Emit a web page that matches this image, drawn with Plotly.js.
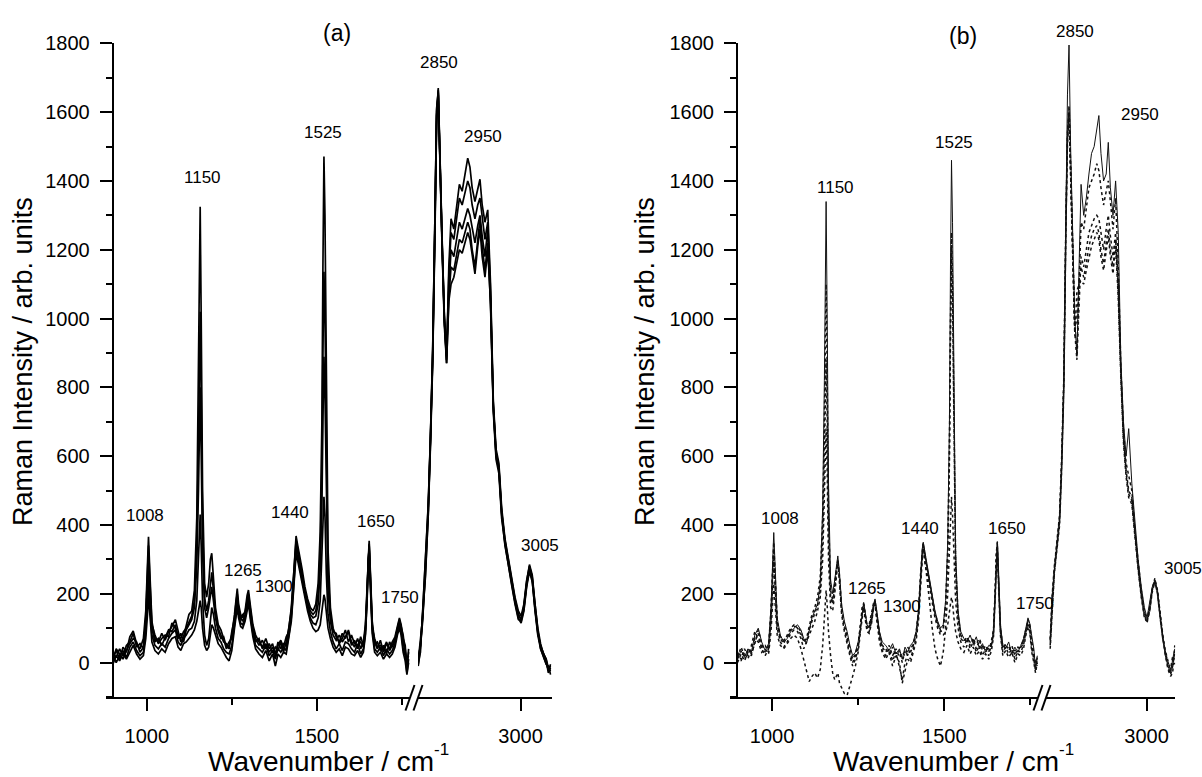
<!DOCTYPE html>
<html>
<head>
<meta charset="utf-8">
<script src="https://cdn.plot.ly/plotly-3.0.1.min.js"></script>
<style>
html,body{margin:0;padding:0;background:#ffffff;}
#chart{width:1202px;height:777px;}
</style>
</head>
<body>
<div id="chart"></div>
<script>
// ---------------- DATA ----------------
// Wavenumber grids (cm-1) for the two parts of the broken x axis
const leftWavenumber = [
  900, 910, 920, 930, 940, 950, 960, 970, 980, 990,
  997, 1002, 1005, 1009, 1015, 1024, 1034, 1044, 1054, 1064,
  1074, 1084, 1092, 1100, 1108, 1116, 1124, 1132, 1140, 1147,
  1152, 1155, 1157, 1160, 1164, 1170, 1176, 1182, 1187, 1191,
  1196, 1202, 1210, 1218, 1226, 1234, 1242, 1250, 1258, 1263,
  1266, 1270, 1276, 1282, 1289, 1295, 1299, 1304, 1312, 1320,
  1330, 1340, 1350, 1360, 1370, 1378, 1386, 1394, 1402, 1410,
  1418, 1425, 1431, 1436, 1439, 1444, 1450, 1457, 1465, 1473,
  1481, 1489, 1497, 1504, 1510, 1515, 1518, 1521, 1524, 1528,
  1533, 1540, 1548, 1557, 1566, 1575, 1584, 1593, 1602, 1611,
  1620, 1629, 1637, 1643, 1648, 1651, 1654, 1658, 1663, 1670,
  1678, 1687, 1696, 1705, 1714, 1722, 1730, 1737, 1743, 1748,
  1754, 1760, 1765, 1770
];
const rightWavenumber = [
  2816, 2820, 2824, 2829, 2834, 2838, 2842, 2846, 2849, 2852,
  2855, 2859, 2863, 2867, 2871, 2875, 2880, 2885, 2890, 2895,
  2900, 2905, 2909, 2913, 2918, 2923, 2927, 2931, 2936, 2941,
  2946, 2951, 2956, 2961, 2966, 2972, 2978, 2984, 2990, 2996,
  3001, 3006, 3011, 3016, 3021, 3026, 3031, 3036, 3041, 3046,
  3050, 3054
];

// Panel (a) spectra, fingerprint region
const aLeft1 = [
  15, 35, 10, 45, 30, 75, 92, 55, 40, 70,
  150, 300, 366, 260, 120, 70, 60, 85, 65, 90,
  105, 125, 95, 60, 75, 110, 140, 150, 210, 420,
  800, 1150, 1325, 1000, 500, 230, 190, 230, 300, 318,
  250, 160, 110, 95, 70, 40, 50, 80, 140, 200,
  215, 170, 140, 130, 150, 195, 211, 170, 110, 80,
  60, 45, 70, 40, 55, 20, 50, 65, 45, 75,
  90, 140, 250, 340, 368, 340, 310, 270, 220, 185,
  160, 150, 170, 230, 380, 700, 1150, 1471, 1300, 750,
  330, 160, 100, 75, 60, 85, 70, 95, 60, 45,
  70, 40, 60, 110, 220, 330, 354, 250, 120, 60,
  40, 65, 30, 55, 40, 60, 75, 105, 130, 110,
  70, 50, -20, 40
];
const aLeft2 = [
  30, 15, 40, 20, 50, 60, 85, 45, 55, 40,
  130, 260, 340, 240, 110, 80, 55, 70, 80, 75,
  115, 100, 80, 70, 90, 100, 120, 135, 180, 340,
  640, 890, 1020, 780, 400, 190, 150, 180, 240, 262,
  210, 140, 100, 80, 60, 55, 40, 90, 130, 180,
  200, 160, 125, 140, 145, 180, 200, 160, 100, 70,
  50, 65, 40, 55, 30, 45, 35, 60, 30, 60,
  100, 160, 240, 320, 355, 330, 300, 255, 210, 175,
  150, 140, 150, 200, 320, 560, 900, 1136, 1000, 580,
  260, 140, 90, 85, 55, 70, 95, 60, 80, 55,
  50, 60, 45, 100, 210, 320, 345, 240, 110, 55,
  60, 35, 50, 25, 60, 45, 65, 100, 125, 105,
  80, 30, 10, 20
];
const aLeft3 = [
  5, 40, 25, 10, 35, 55, 70, 60, 30, 45,
  120, 230, 300, 210, 100, 60, 70, 50, 75, 95,
  90, 110, 70, 85, 60, 95, 110, 125, 160, 280,
  500, 700, 800, 610, 320, 160, 130, 160, 200, 220,
  180, 130, 90, 70, 75, 45, 60, 70, 120, 170,
  190, 150, 130, 120, 140, 175, 195, 150, 90, 60,
  70, 40, 55, 30, 45, 25, 60, 40, 55, 50,
  110, 150, 230, 310, 340, 320, 290, 250, 200, 165,
  140, 130, 135, 170, 270, 450, 700, 889, 780, 450,
  210, 120, 80, 65, 80, 60, 75, 90, 50, 65,
  40, 75, 50, 95, 200, 310, 340, 235, 100, 70,
  45, 50, 40, 60, 35, 50, 70, 95, 120, 100,
  55, 40, -10, 30
];
const aLeft4 = [
  25, 0, 20, 35, 15, 45, 60, 35, 20, 30,
  90, 180, 250, 170, 80, 50, 40, 55, 45, 70,
  85, 95, 60, 50, 70, 80, 95, 100, 120, 180,
  290, 390, 430, 340, 180, 80, 50, 70, 120, 160,
  140, 100, 70, 60, 40, 30, 25, 50, 110, 150,
  170, 140, 115, 110, 130, 160, 185, 140, 85, 50,
  40, 30, 50, 20, 35, 10, 40, 30, 45, 35,
  80, 130, 210, 290, 325, 305, 275, 240, 190, 160,
  130, 115, 110, 130, 180, 290, 400, 482, 430, 260,
  140, 90, 60, 40, 55, 35, 60, 55, 40, 30,
  55, 25, 40, 85, 190, 300, 330, 220, 95, 40,
  30, 45, 20, 40, 25, 35, 55, 90, 110, 90,
  40, 20, -30, 10
];
const aLeft5 = [
  -5, 20, 5, 25, 10, 30, 50, 25, 10, 20,
  70, 140, 200, 140, 60, 35, 25, 40, 30, 55,
  70, 75, 45, 35, 55, 60, 70, 80, 95, 120,
  150, 175, 180, 160, 100, 50, 35, 45, 80, 110,
  100, 80, 55, 45, 30, 15, 5, 35, 100, 140,
  160, 130, 105, 100, 120, 150, 175, 130, 75, 40,
  25, 15, 35, 5, 25, -10, 25, 15, 30, 25,
  70, 120, 200, 280, 315, 295, 265, 230, 180, 150,
  120, 100, 90, 95, 110, 150, 180, 197, 185, 140,
  100, 70, 45, 30, 40, 20, 45, 40, 25, 20,
  35, 15, 30, 80, 180, 290, 320, 210, 85, 30,
  20, 30, 10, 25, 15, 25, 45, 80, 100, 80,
  30, 5, -35, 0
];

// Panel (a) spectra, C-H stretching region
const aRight1 = [
  10, 50, 140, 250, 430, 640, 880, 1260, 1580, 1670,
  1450, 1230, 1000, 880, 1150, 1290, 1260, 1330, 1390, 1370,
  1420, 1466, 1440, 1380, 1340, 1380, 1405, 1330, 1280, 1316,
  1100, 760, 620, 580, 450, 360, 300, 240, 190, 150,
  135, 170, 240, 280, 250, 160, 90, 45, 25, 10,
  -15, -25
];
const aRight2 = [
  5, 60, 130, 260, 430, 630, 870, 1240, 1560, 1660,
  1430, 1210, 990, 890, 1120, 1250, 1230, 1290, 1350, 1330,
  1370, 1400, 1380, 1330, 1290, 1330, 1350, 1290, 1230, 1280,
  1080, 750, 610, 570, 440, 350, 290, 230, 180, 140,
  125, 160, 230, 270, 240, 150, 80, 40, 20, 0,
  -20, -10
];
const aRight3 = [
  -5, 30, 150, 290, 460, 660, 910, 1290, 1600, 1665,
  1440, 1220, 1010, 900, 1080, 1200, 1180, 1230, 1280, 1260,
  1290, 1320, 1300, 1260, 1220, 1270, 1300, 1240, 1180, 1260,
  1060, 740, 600, 560, 430, 340, 285, 220, 175, 130,
  115, 150, 220, 265, 235, 155, 85, 50, 30, 5,
  -30, -15
];
const aRight4 = [
  10, 50, 120, 270, 440, 640, 890, 1270, 1590, 1650,
  1420, 1200, 980, 870, 1060, 1150, 1140, 1190, 1230, 1220,
  1250, 1280, 1260, 1200, 1150, 1230, 1290, 1210, 1140, 1220,
  1040, 730, 590, 550, 420, 345, 280, 225, 170, 125,
  120, 155, 225, 275, 245, 165, 95, 40, 15, -5,
  -10, -35
];
const aRight5 = [
  -10, 45, 145, 285, 455, 655, 905, 1290, 1610, 1655,
  1440, 1215, 1000, 870, 1050, 1100, 1120, 1160, 1200, 1190,
  1220, 1250, 1230, 1180, 1130, 1210, 1260, 1180, 1120, 1200,
  1050, 745, 605, 565, 435, 355, 295, 235, 185, 140,
  125, 165, 235, 285, 255, 170, 100, 55, 25, 10,
  -25, -5
];

// Panel (b) spectra, fingerprint region
const bLeft1 = [
  10, 35, 15, 40, 30, 80, 100, 60, 35, 55,
  160, 310, 378, 280, 130, 80, 60, 70, 90, 100,
  110, 95, 70, 55, 90, 130, 150, 170, 230, 450,
  820, 1180, 1340, 1020, 520, 240, 200, 240, 290, 310,
  260, 170, 120, 90, 50, 20, 30, 60, 110, 160,
  175, 150, 110, 100, 130, 170, 185, 150, 90, 60,
  50, 35, 55, 25, 40, 10, 45, 30, 50, 60,
  90, 150, 260, 330, 350, 320, 290, 240, 190, 150,
  120, 100, 110, 180, 350, 700, 1150, 1460, 1280, 740,
  320, 150, 90, 70, 60, 80, 55, 75, 40, 55,
  30, 50, 45, 100, 220, 330, 352, 240, 110, 50,
  40, 60, 25, 45, 30, 50, 70, 100, 130, 115,
  70, 40, -20, 20
];
const bLeft2 = [
  30, 10, 40, 20, 50, 90, 70, 45, 50, 30,
  140, 280, 350, 250, 115, 70, 55, 80, 100, 110,
  100, 80, 60, 70, 110, 140, 160, 190, 250, 420,
  700, 980, 1100, 850, 430, 210, 180, 230, 280, 300,
  240, 150, 100, 60, 30, 0, 20, 50, 120, 170,
  170, 140, 100, 110, 140, 175, 180, 140, 80, 45,
  30, 50, 20, 40, 15, 30, 20, 45, 30, 50,
  80, 140, 250, 320, 345, 315, 280, 230, 180, 140,
  110, 90, 95, 160, 300, 580, 950, 1200, 1050, 600,
  270, 130, 70, 60, 75, 50, 70, 40, 65, 35,
  50, 30, 60, 90, 210, 320, 345, 235, 100, 40,
  55, 35, 50, 20, 45, 40, 60, 95, 120, 105,
  50, 20, 0, -10
];
const bLeft3 = [
  0, 25, 5, 30, 20, 60, 85, 40, 20, 40,
  120, 240, 300, 220, 100, 60, 45, 60, 85, 95,
  90, 70, 40, 60, 80, 100, 120, 150, 190, 300,
  480, 630, 680, 560, 300, 160, 150, 200, 260, 290,
  230, 140, 90, 50, 20, -10, 10, 40, 110, 160,
  165, 135, 95, 90, 120, 165, 175, 130, 70, 35,
  20, 40, 5, 30, -20, -50, 0, 25, 10, 40,
  70, 130, 240, 310, 340, 300, 250, 180, 100, 40,
  10, -10, 30, 100, 200, 330, 420, 482, 430, 300,
  180, 100, 60, 45, 70, 40, 60, 30, 50, 20,
  40, 20, 50, 80, 200, 310, 340, 225, 90, 30,
  45, 25, 40, 10, 35, 30, 50, 90, 115, 100,
  40, 10, -25, 10
];
const bLeft4 = [
  20, 5, 30, 10, 40, 70, 60, 30, 40, 25,
  90, 180, 230, 170, 80, 50, 40, 55, 70, 80,
  70, 40, 10, -20, -55, -40, -30, -45, -20, 50,
  150, 200, 210, 170, 90, 20, -30, -50, -40, -30,
  -60, -75, -90, -95, -70, -40, -10, 30, 100, 150,
  160, 130, 90, 85, 115, 160, 170, 125, 60, 30,
  10, 30, -10, 20, 0, -60, -20, 10, 0, 30,
  60, 120, 230, 300, 330, 290, 260, 220, 170, 130,
  100, 80, 80, 90, 110, 140, 170, 190, 175, 130,
  90, 60, 40, 30, 50, 25, 45, 20, 35, 10,
  25, 10, 35, 75, 190, 300, 330, 215, 80, 20,
  35, 15, 30, 0, 25, 20, 40, 80, 105, 90,
  30, 0, -30, 0
];
const bLeft5 = [
  15, 45, 20, 35, 25, 55, 95, 55, 30, 50,
  150, 270, 330, 240, 120, 75, 65, 75, 95, 105,
  105, 90, 65, 60, 95, 120, 140, 165, 210, 360,
  600, 800, 880, 700, 360, 190, 170, 220, 275, 295,
  250, 160, 110, 75, 40, 10, 25, 55, 115, 165,
  170, 145, 105, 105, 135, 170, 180, 145, 85, 50,
  40, 25, 45, 15, 35, 0, 35, 20, 40, 55,
  85, 145, 255, 325, 348, 310, 275, 235, 185, 145,
  115, 95, 100, 170, 320, 620, 980, 1250, 1100, 650,
  290, 140, 80, 65, 70, 60, 65, 55, 70, 45,
  45, 40, 55, 95, 215, 325, 350, 238, 105, 45,
  50, 45, 35, 35, 40, 45, 65, 98, 125, 110,
  60, 30, -10, 15
];

// Panel (b) spectra, C-H stretching region
const bRight1 = [
  60, 190, 270, 340, 420, 590, 820, 1300, 1650, 1795,
  1500, 1250, 1000, 890, 1150, 1390, 1300, 1350, 1420, 1480,
  1500, 1550, 1590, 1480, 1400, 1420, 1512, 1380, 1300, 1400,
  1250, 880, 700, 600, 680, 520, 400, 300, 220, 160,
  130, 170, 220, 240, 210, 140, 80, 20, -10, -30,
  10, 40
];
const bRight2 = [
  40, 170, 260, 330, 400, 560, 790, 1250, 1540, 1620,
  1450, 1200, 980, 900, 1100, 1280, 1260, 1320, 1380, 1400,
  1420, 1450, 1430, 1380, 1330, 1370, 1400, 1340, 1260, 1350,
  1150, 860, 680, 580, 540, 500, 380, 290, 210, 150,
  125, 160, 215, 235, 200, 130, 70, 30, 0, -20,
  20, -5
];
const bRight3 = [
  70, 200, 280, 350, 430, 600, 830, 1280, 1530, 1600,
  1420, 1180, 960, 880, 1050, 1180, 1150, 1200, 1250, 1270,
  1290, 1300, 1290, 1250, 1200, 1260, 1300, 1240, 1180, 1250,
  1100, 850, 660, 560, 500, 480, 370, 280, 200, 140,
  120, 150, 210, 240, 205, 135, 75, 25, -15, -35,
  -10, 30
];
const bRight4 = [
  50, 180, 265, 335, 410, 570, 800, 1260, 1520, 1610,
  1430, 1190, 970, 1000, 1100, 1150, 1120, 1160, 1210, 1240,
  1260, 1270, 1250, 1200, 1160, 1220, 1260, 1200, 1150, 1230,
  1080, 840, 650, 550, 490, 470, 365, 275, 195, 135,
  115, 155, 215, 245, 210, 140, 80, 35, 0, -25,
  0, 20
];
const bRight5 = [
  65, 195, 275, 345, 425, 585, 810, 1270, 1510, 1590,
  1410, 1170, 950, 1080, 1100, 1110, 1100, 1140, 1180, 1210,
  1230, 1250, 1230, 1180, 1140, 1200, 1240, 1180, 1130, 1210,
  1060, 830, 640, 540, 480, 460, 360, 270, 190, 130,
  120, 150, 205, 235, 200, 130, 70, 25, -20, -40,
  -30, 50
];

// Text
const panelTags = ['(a)', '(b)'];
const peakLabels = ['1008', '1150', '1265', '1300', '1440', '1525', '1650', '1750', '2850', '2950', '3005'];
const xTickRight = [3000];
const xTitleMain = 'Wavenumber / cm';
const xTitleExp = '-1';
const yTitle = 'Raman Intensity / arb. units';

// ---------------- LAYOUT HELPERS ----------------
const W = 1202, H = 777;
const FONT = 'Arial, "Liberation Sans", sans-serif';
const fx = p => p / W;
const fy = p => (H - p) / H;

const traces = [];
function addSet(sets, xs, xa, ya, style) {
  sets.forEach((ys, i) => {
    traces.push({
      type: 'scatter', mode: 'lines', x: xs, y: ys,
      xaxis: xa, yaxis: ya, showlegend: false, hoverinfo: 'skip',
      line: style(i)
    });
  });
}
const solidStyle = () => ({color: '#000000', width: 1.7});
const dotStyle = i => (i === 0 ? {color: '#111111', width: 1.0, dash: 'solid'} : {color: '#111111', width: 1.5, dash: 'dot'});

addSet([aLeft1, aLeft2, aLeft3, aLeft4, aLeft5], leftWavenumber, 'x', 'y', solidStyle);
addSet([aRight1, aRight2, aRight3, aRight4, aRight5], rightWavenumber, 'x2', 'y', solidStyle);
addSet([bLeft1, bLeft2, bLeft3, bLeft4, bLeft5], leftWavenumber, 'x3', 'y2', dotStyle);
addSet([bRight1, bRight2, bRight3, bRight4, bRight5], rightWavenumber, 'x4', 'y2', dotStyle);

const tickFont = {family: FONT, size: 20, color: '#000000'};
const minorTicks = (d) => ({dtick: d, ticklen: 6, tickwidth: 2, tickcolor: '#000000', ticks: 'outside', showgrid: false});
function xAxis(d0, d1, range, anchor, extra) {
  return Object.assign({
    domain: [fx(d0), fx(d1)], range: range, anchor: anchor,
    showline: true, linecolor: '#000000', linewidth: 2,
    ticks: 'outside', ticklen: 12, tickwidth: 2, tickcolor: '#000000',
    tickfont: tickFont, showgrid: false, zeroline: false, fixedrange: true,
    ticklabelstandoff: 8
  }, extra);
}
function yAxis(pos) {
  return {
    domain: [fy(697), fy(43.3)], range: [-100, 1800], anchor: 'free', position: fx(pos),
    showline: true, linecolor: '#000000', linewidth: 2,
    ticks: 'outside', ticklen: 12, tickwidth: 2, tickcolor: '#000000',
    tickmode: 'linear', tick0: 0, dtick: 200, minor: minorTicks(100),
    tickfont: tickFont, showgrid: false, zeroline: false, fixedrange: true,
    ticklabelstandoff: 6
  };
}
const leftTicks = {tickmode: 'linear', tick0: 0, dtick: 500, minor: minorTicks(250)};
const rightTicks = {tickmode: 'array', tickvals: xTickRight, ticktext: xTickRight.map(String)};

// break marks "//"
function breakMarks(c1, c2) {
  return [c1, c2].map(c => ({
    type: 'line', xref: 'paper', yref: 'paper',
    x0: fx(c - 4.5), y0: fy(710.5), x1: fx(c + 4.5), y1: fy(685),
    line: {color: '#000000', width: 2}
  }));
}

// annotation positions (pixels) for the peak labels, in the order of peakLabels
const labelPosA = [[145, 515], [202, 177], [243, 570], [274, 586], [290, 512], [323, 132], [376, 521], [400, 597], [439, 62], [483, 136], [540, 545]];
const labelPosB = [[780, 518], [835, 187], [867, 588], [902, 606], [920, 528], [954, 142], [1007, 528], [1035, 603], [1075, 32], [1140, 115], [1183, 568]];

const annotations = [];
function addText(text, x, y, size, extra) {
  annotations.push(Object.assign({
    text: text, xref: 'paper', yref: 'paper', x: fx(x), y: fy(y),
    xanchor: 'center', yanchor: 'middle', showarrow: false,
    font: {family: FONT, size: size, color: '#000000'}
  }, extra || {}));
}
peakLabels.forEach((t, i) => {
  addText(t, labelPosA[i][0], labelPosA[i][1], 17);
  addText(t, labelPosB[i][0], labelPosB[i][1], 17);
});
addText(panelTags[0], 337, 33, 23);
addText(panelTags[1], 963, 36, 23);
addText(xTitleMain, 436, 761, 28, {xanchor: 'right'});
addText(xTitleExp, 432, 749, 17, {xanchor: 'left'});
addText(xTitleMain, 1061, 761, 28, {xanchor: 'right'});
addText(xTitleExp, 1057, 749, 17, {xanchor: 'left'});
addText(yTitle, 23, 362, 27, {textangle: -90});
addText(yTitle, 645, 362, 27, {textangle: -90});

const layout = {
  width: W, height: H,
  margin: {l: 0, r: 0, t: 0, b: 0},
  paper_bgcolor: '#ffffff', plot_bgcolor: 'rgba(0,0,0,0)',
  showlegend: false,
  font: {family: FONT, color: '#000000'},
  xaxis: xAxis(106, 410, [880, 1774.1], 'y', leftTicks),
  xaxis2: xAxis(418, 551.7, [2815.6, 3056], 'y', rightTicks),
  xaxis3: xAxis(730, 1038, [878, 1772.1], 'y2', leftTicks),
  xaxis4: xAxis(1046, 1175.3, [2808, 3055], 'y2', rightTicks),
  yaxis: yAxis(112.7),
  yaxis2: yAxis(737),
  shapes: breakMarks(410, 418).concat(breakMarks(1038, 1046)),
  annotations: annotations
};

Plotly.newPlot('chart', traces, layout, {displayModeBar: false, staticPlot: true});
</script>
</body>
</html>
